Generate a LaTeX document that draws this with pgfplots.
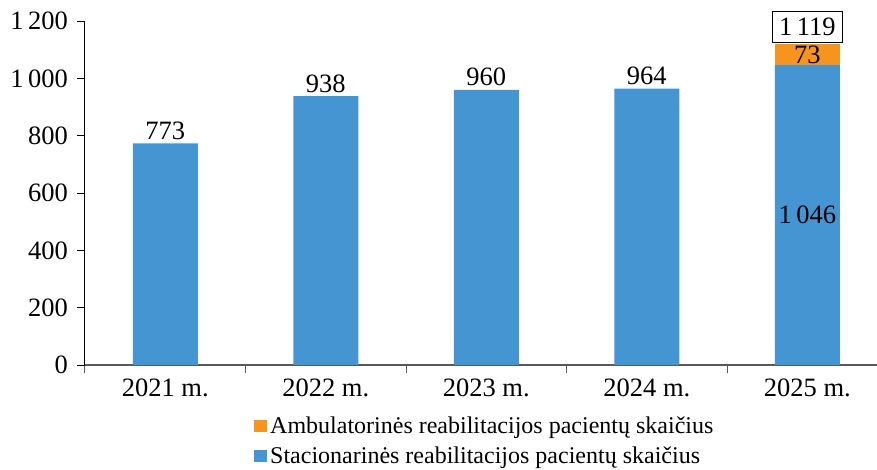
\documentclass[border=0pt]{standalone}
\usepackage{fontspec}
\setmainfont{Liberation Serif}
\usepackage{pgfplots}
\usepackage{pgfplotstable}
\pgfplotsset{compat=1.18}
\definecolor{barblue}{HTML}{4495D1}
\definecolor{barorange}{HTML}{F7941D}
\newcommand\chartfont{\fontsize{26.5}{30}\selectfont}
\newcommand\legfont{\fontsize{24}{27}\selectfont}

% stacionarine (bottom); dy = shift of the label from the middle of the bar, pt
\pgfplotstableread[col sep=comma]{
x,y,lab,dy
0,773,773,123.5
1,938,938,147.2
2,960,960,150.3
3,964,964,150.9
4,1046,1\,046,0
}\stac
% ambulatorine (top)
\pgfplotstableread[col sep=comma]{
x,y,lab,dy
0,0,{},0
1,0,{},0
2,0,{},0
3,0,{},0
4,73,73,0
}\ambu
% totals (boxed label only)
\pgfplotstableread[col sep=comma]{
x,y,lab,op
0,0,{},0
1,0,{},0
2,0,{},0
3,0,{},0
4,0.01,1\,119,1
}\totals

\begin{document}
\begin{tikzpicture}
\begin{axis}[
  at={(0,0)}, anchor=south west,
  scale only axis,
  width=792pt, height=344pt,
  ybar stacked,
  bar width=65pt,
  xmin=-0.5, xmax=4.434,
  ymin=0, ymax=1200,
  ytick={0,200,...,1200},
  yticklabels={0,200,400,600,800,{1\,000},{1\,200}},
  xtick={-0.5,0.5,1.5,2.5,3.5},
  xticklabels={2021 m.,2022 m.,2023 m.,2024 m.,2025 m.},
  xticklabel style={anchor=north, inner sep=0pt, xshift=80.25pt, yshift=-6pt, font=\chartfont},
  yticklabel style={anchor=east, inner sep=0pt, xshift=-9pt, font=\chartfont},
  axis lines=left,
  axis line style={-},
  x axis line style={draw=black!65, line width=1.2pt},
  y axis line style={draw=black, line width=1pt},
  tick align=outside,
  major tick length=8pt,
  x tick style={draw=black!65, line width=1pt},
  y tick style={draw=black, line width=0.8pt},
  clip=false,
  legend style={at={(0.2134,-0.1482)}, anchor=north west, draw=none, fill=none,
    inner sep=0pt, row sep=9.5pt, font=\legfont,
    nodes={inner xsep=3pt, inner ysep=1pt}},
  legend cell align=left,
  legend image code/.code={\path[#1, draw=none] (0pt,-6pt) rectangle (13pt,6pt);},
  reverse legend,
  point meta=explicit symbolic,
  nodes near coords,
]
\addplot+[fill=barblue, draw=none,
  visualization depends on={\thisrow{dy} \as \dy},
  nodes near coords style={anchor=center, inner sep=0pt, yshift=\dy pt, font=\chartfont, text=black}]
  table[x=x, y=y, meta=lab] {\stac};
\addlegendentry{Stacionarinės reabilitacijos pacientų skaičius}
\addplot+[fill=barorange, draw=none,
  visualization depends on={\thisrow{dy} \as \dy},
  nodes near coords style={anchor=center, inner sep=0pt, yshift=\dy pt, font=\chartfont, text=black}]
  table[x=x, y=y, meta=lab] {\ambu};
\addlegendentry{Ambulatorinės reabilitacijos pacientų skaičius}
\addplot+[fill=none, draw=none, forget plot,
  visualization depends on={\thisrow{op} \as \op},
  nodes near coords style={anchor=south, draw=black, draw opacity=\op, line width=0.9pt,
    inner xsep=7pt, inner ysep=7pt, yshift=1pt, font=\chartfont, text=black}]
  table[x=x, y=y, meta=lab] {\totals};
\end{axis}
\pgfresetboundingbox
\path (-85pt,-105pt) rectangle (792pt,365pt);
\end{tikzpicture}
\end{document}
